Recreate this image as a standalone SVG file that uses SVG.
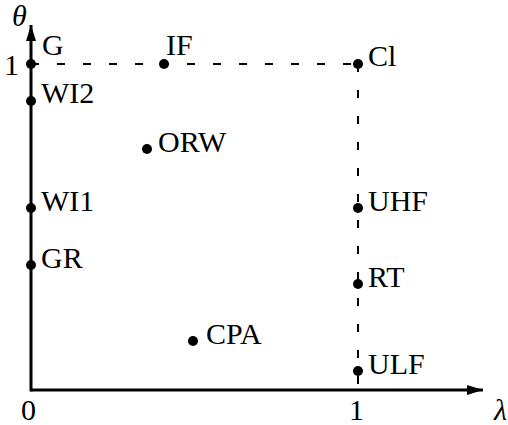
<svg xmlns="http://www.w3.org/2000/svg" width="508" height="425" viewBox="0 0 508 425">
<defs>
<style>
.axis{stroke:#000;stroke-width:3;fill:none}
.dash{stroke:#000;stroke-width:2;fill:none;stroke-dasharray:8 18}
.dot{fill:#000}
</style>
<marker id="arr" viewBox="0 0 16 10" refX="16" refY="5" markerWidth="16" markerHeight="10" markerUnits="userSpaceOnUse" orient="auto">
<path d="M0,0 L16,5 L0,10 Z" fill="#000"/>
</marker>
</defs>
<rect width="508" height="425" fill="#fff"/>
<g id="connectors">
<line class="dash" x1="31" y1="64" x2="358" y2="64"/>
<line class="dash" x1="358" y1="64" x2="358" y2="390"/>
<line class="axis" x1="31" y1="390" x2="483" y2="390" marker-end="url(#arr)"/>
<line class="axis" x1="31" y1="391.5" x2="31" y2="25" marker-end="url(#arr)"/>
</g>
<g font-family="Liberation Serif, Times New Roman, serif" font-size="30" fill="#000">
<g id="axis-labels">
<text x="12" y="26" font-style="italic">θ</text>
<text x="494" y="420" font-style="italic">λ</text>
<text x="4" y="75">1</text>
<text x="21" y="420">0</text>
<text x="349" y="420">1</text>
</g>
<g id="G"><circle class="dot" cx="31" cy="64" r="5"/><text x="42" y="55">G</text></g>
<g id="IF"><circle class="dot" cx="164" cy="64" r="5"/><text x="166" y="55">IF</text></g>
<g id="Cl"><circle class="dot" cx="358" cy="64" r="5"/><text x="368" y="66">Cl</text></g>
<g id="WI2"><circle class="dot" cx="31" cy="101" r="5"/><text x="41" y="103">WI2</text></g>
<g id="ORW"><circle class="dot" cx="147" cy="149" r="5"/><text x="158" y="152">ORW</text></g>
<g id="WI1"><circle class="dot" cx="31" cy="208" r="5"/><text x="41" y="211">WI1</text></g>
<g id="GR"><circle class="dot" cx="31" cy="265" r="5"/><text x="41" y="268">GR</text></g>
<g id="UHF"><circle class="dot" cx="358" cy="208" r="5"/><text x="368" y="211">UHF</text></g>
<g id="RT"><circle class="dot" cx="358" cy="284" r="5"/><text x="368" y="287">RT</text></g>
<g id="CPA"><circle class="dot" cx="193" cy="341" r="5"/><text x="206" y="344">CPA</text></g>
<g id="ULF"><circle class="dot" cx="358" cy="371" r="5"/><text x="368" y="374">ULF</text></g>
</g>
</svg>
